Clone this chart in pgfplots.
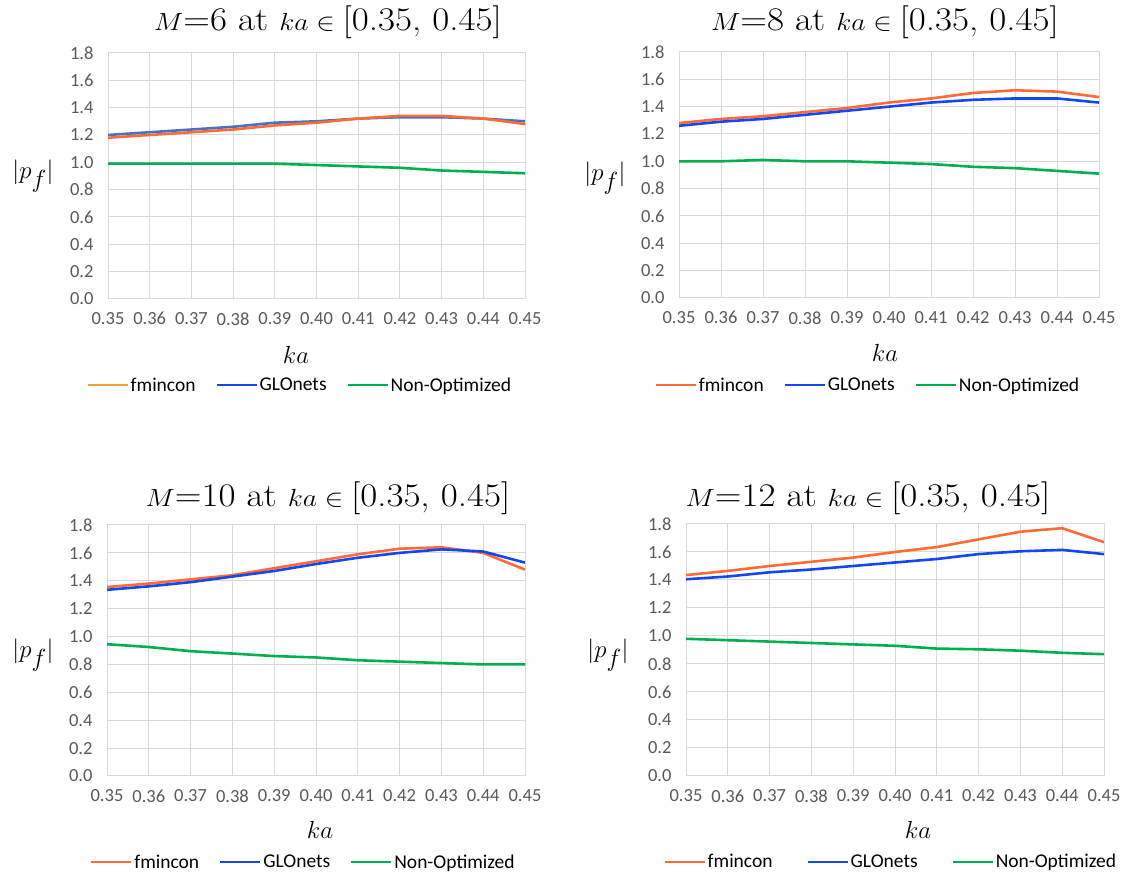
\documentclass[border=0pt]{standalone}
\usepackage{fontspec}
\setmainfont{Carlito}
\newfontfamily\lmr{Latin Modern Roman}
\usepackage{pgfplots}
\pgfplotsset{compat=1.18}
\usepackage{pgfplotstable}

\definecolor{fmin}{HTML}{FF6A35}
\definecolor{fminold}{HTML}{F2A03A}
\definecolor{glo}{HTML}{1446F5}
\definecolor{gloold}{HTML}{4472C4}
\definecolor{nonopt}{HTML}{00B050}
\definecolor{gridgray}{HTML}{D9D9D9}
\definecolor{tickgray}{HTML}{595959}

% ka, fmincon, GLOnets, Non-Optimized
\pgfplotstableread{
x f g n
0.35 1.18 1.20 0.99
0.36 1.20 1.22 0.99
0.37 1.22 1.24 0.99
0.38 1.24 1.26 0.99
0.39 1.27 1.29 0.99
0.40 1.29 1.30 0.98
0.41 1.32 1.32 0.97
0.42 1.34 1.33 0.96
0.43 1.34 1.33 0.94
0.44 1.32 1.32 0.93
0.45 1.28 1.30 0.92
}\mSix
\pgfplotstableread{
x f g n
0.35 1.28 1.26 1.00
0.36 1.31 1.29 1.00
0.37 1.33 1.31 1.01
0.38 1.36 1.34 1.00
0.39 1.39 1.37 1.00
0.40 1.43 1.40 0.99
0.41 1.46 1.43 0.98
0.42 1.50 1.45 0.96
0.43 1.52 1.46 0.95
0.44 1.51 1.46 0.93
0.45 1.47 1.43 0.91
}\mEight
\pgfplotstableread{
x f g n
0.35 1.355 1.335 0.945
0.36 1.38 1.36 0.925
0.37 1.41 1.39 0.895
0.38 1.44 1.43 0.878
0.39 1.49 1.47 0.86
0.40 1.54 1.52 0.85
0.41 1.59 1.565 0.83
0.42 1.63 1.60 0.82
0.43 1.64 1.625 0.81
0.44 1.60 1.61 0.80
0.45 1.48 1.53 0.80
}\mTen
\pgfplotstableread{
x f g n
0.35 1.435 1.405 0.98
0.36 1.465 1.425 0.97
0.37 1.50 1.455 0.96
0.38 1.53 1.475 0.95
0.39 1.56 1.50 0.94
0.40 1.60 1.525 0.93
0.41 1.635 1.55 0.91
0.42 1.69 1.585 0.905
0.43 1.745 1.605 0.895
0.44 1.77 1.615 0.88
0.45 1.67 1.585 0.87
}\mTwelve

\pgfplotsset{
  panel/.style={
    scale only axis, anchor=south west,
    xmin=0.35, xmax=0.45, ymin=0, ymax=1.8,
    xtick={0.35,0.36,0.37,0.38,0.39,0.40,0.41,0.42,0.43,0.44,0.45},
    ytick={0,0.2,0.4,0.6,0.8,1.0,1.2,1.4,1.6,1.8},
    grid=major, major grid style={draw=gridgray, line width=1bp},
    axis line style={draw=gridgray, line width=1bp},
    major tick length=0pt,
    /pgf/number format/assume math mode=true,
    tick label style={font=\fontsize{18.5bp}{20bp}\selectfont, text=tickgray},
    xticklabel style={yshift=-10bp, /pgf/number format/fixed, /pgf/number format/fixed zerofill,
      /pgf/number format/precision=2},
    yticklabel style={xshift=-11bp, /pgf/number format/fixed,
      /pgf/number format/fixed zerofill, /pgf/number format/precision=1},
    scaled ticks=false,
    legend columns=3,
    legend style={draw=none, fill=none, font=\fontsize{19.5bp}{21bp}\selectfont,
      anchor=center, /tikz/every even column/.append style={column sep=18bp}},
    legend image code/.code={\draw[#1, line width=2.1bp] (0bp,0bp) -- (40bp,0bp);},
    every axis plot/.append style={line width=2.6bp, no marks},
  },
}

\begin{document}
\begin{tikzpicture}[x=1bp, y=1bp]
\path[use as bounding box] (0,0) rectangle (1125,879);

% M = 6
\begin{axis}[panel, at={(108bp,580bp)}, width=417bp, height=246bp,
    legend style={at={(0.46,-0.35)}}]
  \addplot[gloold, forget plot] table[x=x, y=g] {\mSix};
  \addplot[fmin, forget plot] table[x=x, y=f] {\mSix};
  \addplot[nonopt, forget plot] table[x=x, y=n] {\mSix};
  \addlegendimage{fminold}
  \addlegendentry{fmincon}
  \addlegendimage{glo}
  \addlegendentry{GLOnets}
  \addlegendimage{nonopt}
  \addlegendentry{Non-Optimized}
\end{axis}

% M = 8
\begin{axis}[panel, at={(679bp,581bp)}, width=420bp, height=246bp,
    legend style={at={(0.45,-0.354)}}]
  \addplot[fmin] table[x=x, y=f] {\mEight};
  \addlegendentry{fmincon}
  \addplot[glo] table[x=x, y=g] {\mEight};
  \addlegendentry{GLOnets}
  \addplot[nonopt] table[x=x, y=n] {\mEight};
  \addlegendentry{Non-Optimized}
\end{axis}

% M = 10
\begin{axis}[panel, at={(107bp,103bp)}, width=418bp, height=251bp,
    legend style={at={(0.47,-0.343)}}]
  \addplot[fmin] table[x=x, y=f] {\mTen};
  \addlegendentry{fmincon}
  \addplot[glo] table[x=x, y=g] {\mTen};
  \addlegendentry{GLOnets}
  \addplot[nonopt] table[x=x, y=n] {\mTen};
  \addlegendentry{Non-Optimized}
\end{axis}

% M = 12
\begin{axis}[panel, at={(686bp,103bp)}, width=418bp, height=252bp,
    legend style={at={(0.49,-0.341)}, /tikz/every even column/.append style={column sep=32bp}}]
  \addplot[fmin] table[x=x, y=f] {\mTwelve};
  \addlegendentry{fmincon}
  \addplot[glo] table[x=x, y=g] {\mTwelve};
  \addlegendentry{GLOnets}
  \addplot[nonopt] table[x=x, y=n] {\mTwelve};
  \addlegendentry{Non-Optimized}
\end{axis}

% titles
\begin{scope}[every node/.style={font=\lmr\fontsize{33bp}{36bp}\selectfont, anchor=base, inner sep=0pt, xscale=1.12}]
  \node at (328,848) {$M$=6 at $ka\in{}$[0.35, 0.45]};
  \node at (885,848) {$M$=8 at $ka\in{}$[0.35, 0.45]};
  \node at (328,372) {$M$=10 at $ka\in{}$[0.35, 0.45]};
  \node at (868,372) {$M$=12 at $ka\in{}$[0.35, 0.45]};
\end{scope}

% x labels
\begin{scope}[every node/.style={font=\lmr\fontsize{30bp}{32bp}\selectfont, inner sep=0pt}]
  \node at (296,524) {$ka$};
  \node at (885,526) {$ka$};
  \node at (320,49) {$ka$};
  \node at (918,49) {$ka$};
\end{scope}

% y labels
\begin{scope}[every node/.style={font=\lmr\fontsize{40bp}{44bp}\selectfont, inner sep=0pt}]
  \node at (33,703) {$|p_f|$};
  \node at (605,701) {$|p_f|$};
  \node at (33,224) {$|p_f|$};
  \node at (608,224) {$|p_f|$};
\end{scope}
\end{tikzpicture}
\end{document}
